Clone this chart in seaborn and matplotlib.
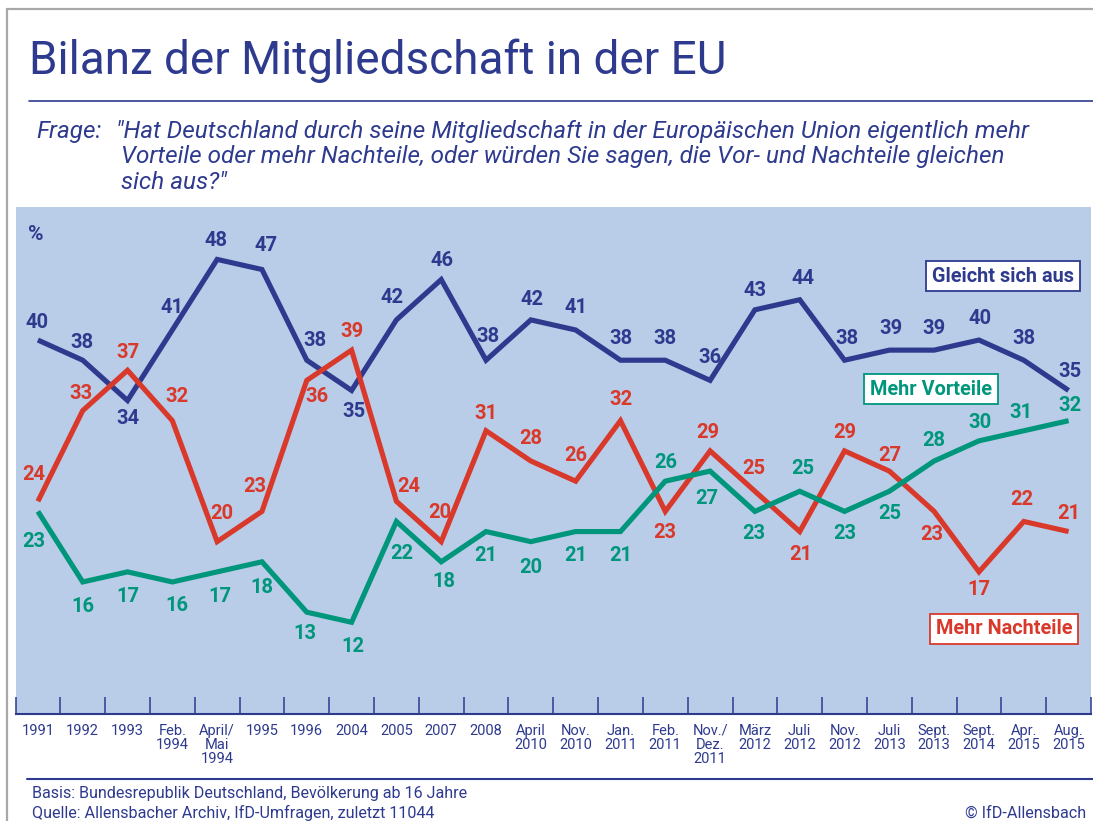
import pandas as pd
import matplotlib
matplotlib.use("Agg")
import matplotlib.pyplot as plt
from matplotlib.lines import Line2D
import seaborn as sns

sns.set_theme(style="white")
plt.rcParams["font.family"] = ["Roboto", "DejaVu Sans"]

# ---------------------------------------------------------------
# data
# ---------------------------------------------------------------
waves = ["1991", "1992", "1993", "Feb.\n1994", "April/\nMai\n1994", "1995", "1996",
         "2004", "2005", "2007", "2008", "April\n2010", "Nov.\n2010", "Jan.\n2011",
         "Feb.\n2011", "Nov./\nDez.\n2011", "März\n2012", "Juli\n2012", "Nov.\n2012",
         "Juli\n2013", "Sept.\n2013", "Sept.\n2014", "Apr.\n2015", "Aug.\n2015"]

gleicht = [40, 38, 34, 41, 48, 47, 38, 35, 42, 46, 38, 42, 41, 38, 38, 36, 43, 44,
           38, 39, 39, 40, 38, 35]
nachteile = [24, 33, 37, 32, 20, 23, 36, 39, 24, 20, 31, 28, 26, 32, 23, 29, 25, 21,
             29, 27, 23, 17, 22, 21]
vorteile = [23, 16, 17, 16, 17, 18, 13, 12, 22, 18, 21, 20, 21, 21, 26, 27, 23, 25,
            23, 25, 28, 30, 31, 32]

series_names = ["Gleicht sich aus", "Mehr Nachteile", "Mehr Vorteile"]

# label offsets in pixels (dx, dy; dy > 0 = below the point)
off_gleicht = [(-1, -18), (-1, -18), (0, 18), (0, -22), (-1, -19), (4, -24), (8, -20),
               (2, 21), (-4, -22), (1, -19), (2, -24), (1, -20), (0, -22), (0, -22),
               (0, -22), (0, -23), (0, -19), (3, -21), (2, -22), (2, -22), (0, -22),
               (1, -22), (0, -22), (1, -19)]
off_nachteile = [(-4, -27), (-2, -17), (0, -18), (5, -24), (5, -28), (-7, -25), (10, 16),
                 (0, -19), (12, -15), (-1, -29), (0, -17), (0, -23), (0, -26), (0, -21),
                 (0, 21), (-2, -18), (-1, -23), (1, 23), (0, -18), (0, -16), (-2, 23),
                 (0, 18), (-2, -22), (0, -18)]
off_vorteile = [(-4, 30), (0, 25), (0, 25), (5, 24), (3, 25), (0, 26), (-2, 21), (1, 24),
                (5, 32), (3, 20), (0, 24), (0, 26), (0, 24), (0, 24), (0, -19), (-3, 27),
                (-1, 22), (3, -23), (0, 22), (0, 22), (0, -21), (1, -18), (-3, -18),
                (1, -15)]

BLUE = "#2e3a8e"
RED = "#d9392b"
GREEN = "#00967c"
BG = "#b9cde8"
colors = {"Gleicht sich aus": BLUE, "Mehr Nachteile": RED, "Mehr Vorteile": GREEN}

idx = list(range(len(waves)))
df = pd.concat([
    pd.DataFrame({"idx": idx, "value": gleicht, "series": series_names[0]}),
    pd.DataFrame({"idx": idx, "value": nachteile, "series": series_names[1]}),
    pd.DataFrame({"idx": idx, "value": vorteile, "series": series_names[2]}),
])

W, H = 1093, 821
fig = plt.figure(figsize=(W / 100, H / 100), dpi=100)
fig.patch.set_facecolor("white")


def fx(x):
    return x / W


def fy(y):
    return 1 - y / H


ax = fig.add_axes([fx(15.5), fy(714), fx(1091 - 15.5), (714 - 207) / H])
ax.set_facecolor(BG)

sns.lineplot(data=df, x="idx", y="value", hue="series", palette=colors,
             hue_order=series_names, linewidth=3.7, legend=False, sort=False, ax=ax)
for ln in ax.get_lines():
    ln.set_solid_joinstyle("miter")
    ln.set_solid_capstyle("butt")

ax.set_xlim(-0.5, 23.45)
ax.set_ylim(2.9, 53.2)
ax.set_xlabel("")
ax.set_ylabel("")
ax.set_yticks([])

ax.set_xticks(idx)
ax.set_xticklabels(waves, fontsize=10.5, color=BLUE, linespacing=1.0)
ax.set_xticks([i - 0.5 for i in range(len(waves) + 1)], minor=True)
ax.tick_params(axis="x", which="major", length=0, pad=7)
ax.tick_params(axis="x", which="minor", length=12, width=1.1, direction="in",
               color=BLUE, bottom=True)
for s in ["top", "left", "right"]:
    ax.spines[s].set_visible(False)
ax.spines["bottom"].set_color(BLUE)
ax.spines["bottom"].set_linewidth(1.5)

# value labels
for vals, offs, name in [(gleicht, off_gleicht, series_names[0]),
                         (nachteile, off_nachteile, series_names[1]),
                         (vorteile, off_vorteile, series_names[2])]:
    for i, (v, (dx, dy)) in enumerate(zip(vals, offs)):
        ax.annotate(str(v), (i, v), xytext=(dx * 0.72, -dy * 0.72),
                    textcoords="offset points", ha="center", va="center",
                    fontsize=14.5, fontweight="semibold", color=colors[name])

# series boxes
box_pos = {"Gleicht sich aus": (1003, 276), "Mehr Vorteile": (931, 389),
           "Mehr Nachteile": (1004, 629)}
for name, (bx, by) in box_pos.items():
    fig.text(fx(bx), fy(by), name, ha="center", va="center", fontsize=14.3,
             fontweight="bold", color=colors[name],
             bbox=dict(boxstyle="square,pad=0.28", facecolor="white",
                       edgecolor=colors[name], linewidth=1.3))

fig.text(fx(28), fy(234), "%", ha="left", va="center", fontsize=15,
         fontweight="bold", color=BLUE)

# title / question
fig.text(fx(29), fy(74), "Bilanz der Mitgliedschaft in der EU", ha="left",
         va="baseline", fontsize=33, fontweight="normal", color=BLUE)
fig.add_artist(Line2D([fx(29), 1], [fy(100.7), fy(100.7)], color=BLUE, lw=1.2))

QS = 17.5
fig.text(fx(36), fy(138), "Frage:", ha="left", va="baseline", fontsize=QS,
         style="italic", color=BLUE)
fig.text(fx(116), fy(138),
         "\"Hat Deutschland durch seine Mitgliedschaft in der Europäischen Union eigentlich mehr",
         ha="left", va="baseline", fontsize=QS, style="italic", color=BLUE)
fig.text(fx(121), fy(163),
         "Vorteile oder mehr Nachteile, oder würden Sie sagen, die Vor- und Nachteile gleichen",
         ha="left", va="baseline", fontsize=QS, style="italic", color=BLUE)
fig.text(fx(121), fy(189), "sich aus?\"", ha="left", va="baseline", fontsize=QS,
         style="italic", color=BLUE)

# footer
fig.add_artist(Line2D([fx(27), 1], [fy(779), fy(779)], color=BLUE, lw=1.5))
fig.text(fx(32), fy(793), "Basis: Bundesrepublik Deutschland, Bevölkerung ab 16 Jahre",
         ha="left", va="center", fontsize=11.6, color=BLUE)
fig.text(fx(32), fy(813), "Quelle: Allensbacher Archiv, IfD-Umfragen, zuletzt 11044",
         ha="left", va="center", fontsize=11.6, color=BLUE)
fig.text(fx(1086), fy(813), "© IfD-Allensbach", ha="right", va="center",
         fontsize=11.6, color=BLUE)

# grey frame
fig.add_artist(Line2D([fx(7), 1], [fy(9), fy(9)], color="#a8a8a8", lw=1.6))
fig.add_artist(Line2D([fx(7), fx(7)], [fy(9), 0], color="#a8a8a8", lw=1.6))

fig.savefig("out.png", dpi=100)
